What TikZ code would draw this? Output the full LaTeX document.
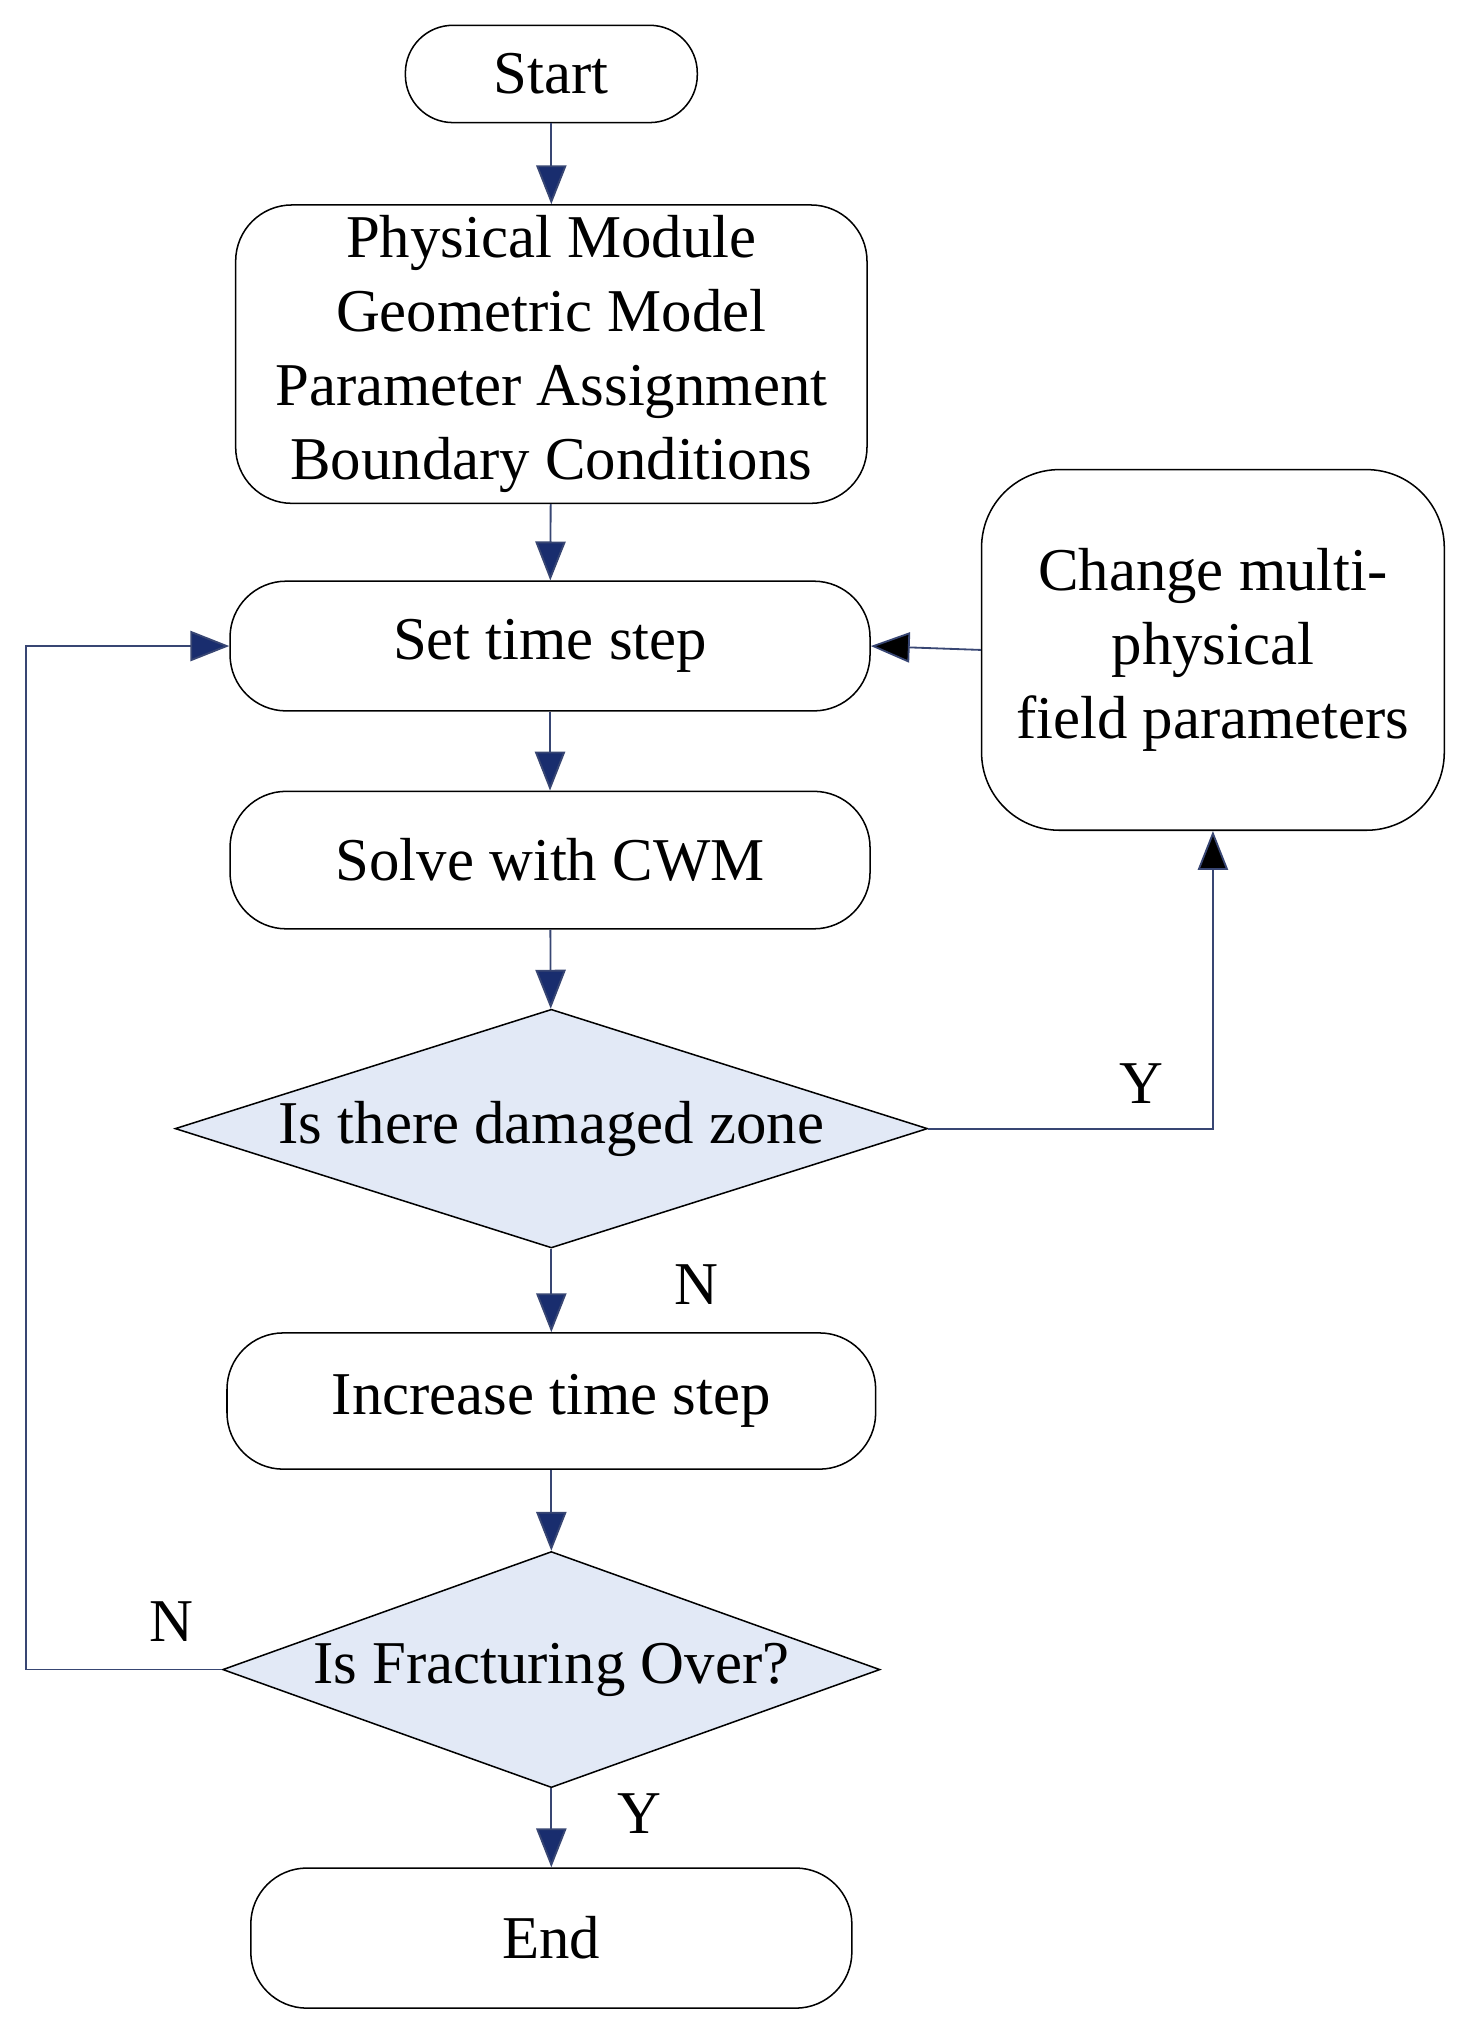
\documentclass[tikz,border=0pt]{standalone}
\usepackage{fontspec}
\setmainfont{Liberation Serif}
\usetikzlibrary{shapes.geometric,arrows.meta}
\definecolor{arr}{RGB}{25,45,110}
\definecolor{dfill}{RGB}{226,233,246}
\begin{document}
\begin{tikzpicture}[x=0.03cm,y=-0.03cm,
  box/.style={draw,line width=1pt,rounded corners=1.3cm,align=center,font=\fontsize{40}{48.6}\selectfont,inner sep=0},
  dia/.style={draw,line width=1pt,diamond,fill=dfill,inner sep=0},
  txt/.style={font=\fontsize{40}{48.6}\selectfont},
  fl/.style={draw=arr!70!gray,line width=1.2pt,-{Triangle[length=0.9cm,width=0.7cm,fill=arr]}},
  bl/.style={draw=arr!70!gray,line width=1.2pt,-{Triangle[length=0.9cm,width=0.7cm,fill=black]}}]
\useasboundingbox (0,0) rectangle (1130,1561);
\node[box,rounded corners=1.1cm,minimum width=6.75cm,minimum height=2.25cm] (s) at (425,57) {Start};
\node[box,minimum width=14.6cm,minimum height=6.9cm] (p) at (425,273) {Physical Module\\Geometric Model\\Parameter Assignment\\Boundary Conditions};
\node[box,minimum width=14.8cm,minimum height=3cm] (t) at (424,498) {Set time step};
\node[box,minimum width=14.8cm,minimum height=3.18cm] (c) at (424,663) {Solve with CWM};
\node[dia,minimum width=17.4cm,minimum height=5.52cm] (d1) at (425,870) {};
\node[txt] at (d1) {Is there damaged zone};
\node[box,minimum width=15cm,minimum height=3.15cm] (i) at (425,1080) {Increase time step};
\node[dia,minimum width=15.2cm,minimum height=5.46cm] (d2) at (425,1287) {};
\node[txt] at (d2) {Is Fracturing Over?};
\node[box,minimum width=13.9cm,minimum height=3.24cm] (e) at (425,1494) {End};
\node[box,rounded corners=1.8cm,minimum width=10.7cm,minimum height=8.34cm] (ch) at (935,501) {Change multi-\\physical\\field parameters};
\draw[fl] (s) -- (p);
\draw[fl] (p) -- (t);
\draw[fl] (t) -- (c);
\draw[fl] (c) -- (d1);
\draw[fl] (d1) -- (i);
\draw[fl] (i) -- (d2);
\draw[fl] (d2) -- (e);
\draw[bl] (d1.east) -| (ch.south);
\draw[bl] (ch.west) -- (t.east);
\coordinate (lp) at (20,1287);
\coordinate (lt) at (20,498);
\draw[fl] (d2.west) -- (lp) -- (lt) -- (t.west);
\node[txt] at (880,835) {Y};
\node[txt] at (537,990) {N};
\node[txt] at (132,1250) {N};
\node[txt] at (493,1398) {Y};
\end{tikzpicture}
\end{document}
